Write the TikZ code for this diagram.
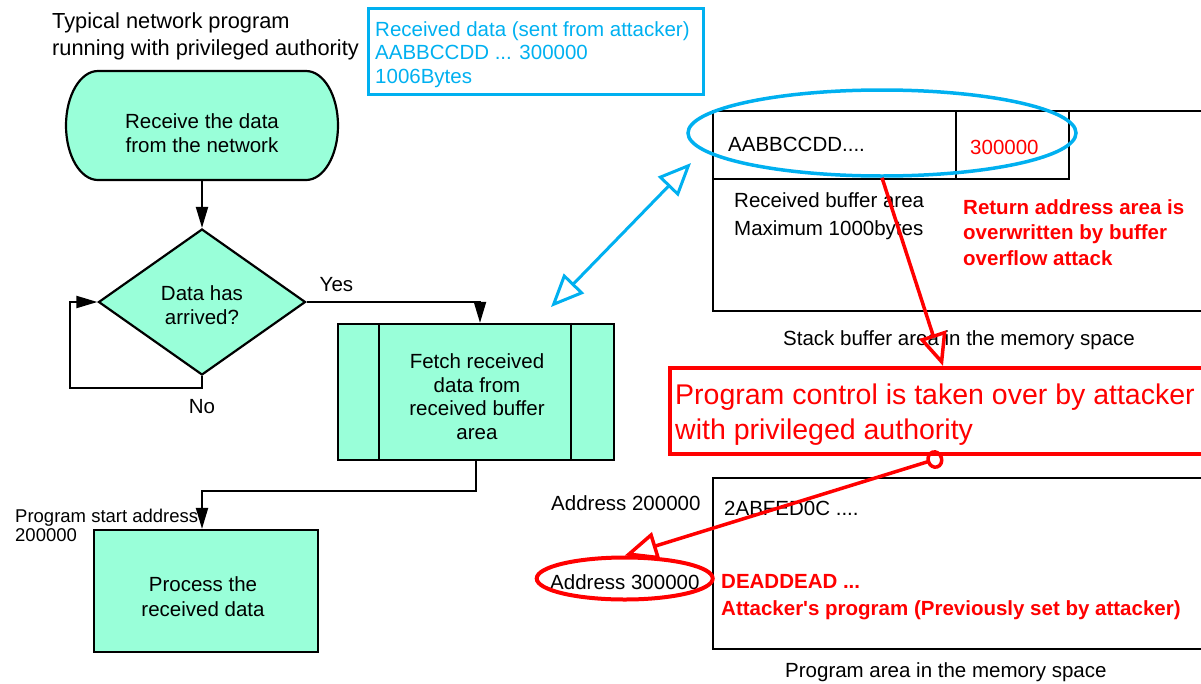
\documentclass[tikz,border=0pt]{standalone}
\usepackage{fontspec}
\setmainfont{Liberation Sans}[Ligatures=TeXOff]
\usetikzlibrary{arrows.meta,shapes.geometric}
\definecolor{mint}{RGB}{153,255,217}
\definecolor{skyline}{RGB}{0,176,240}
\definecolor{alert}{RGB}{255,0,0}
% multi-line text block whose reference point is the first baseline
\newcommand{\txtblk}[2]{\begin{tabular}[t]{@{}#1@{}}#2\end{tabular}}
\newcommand{\fs}[2]{\fontsize{#1}{#2}\selectfont}
\begin{document}
\begin{tikzpicture}[x=1pt,y=-1pt,
  flow/.style={draw=black, line width=2.2pt, fill=mint, inner sep=0pt},
  frame/.style={draw=black, line width=2.2pt, rectangle, inner sep=0pt},
  txt/.style={inner sep=0pt, font=\fs{20.5}{24}},
  link/.style={draw=black, line width=2pt, -{Triangle[length=21pt,width=12pt]}},
  bluelink/.style={draw=skyline, line width=3pt,
    {Triangle[open,length=33pt,width=28pt]}-{Triangle[open,length=33pt,width=28pt]}},
  redlink/.style={draw=alert, line width=3.5pt, -{Triangle[open,length=33pt,width=28pt]}}]
\clip (0,0) rectangle (1201,683);

% ---------- flowchart ----------
\path[flow] (98,71) -- (306,71)
  .. controls (323.7,71) and (338,95.4) .. (338,125.5)
  .. controls (338,155.6) and (323.7,180) .. (306,180) -- (98,180)
  .. controls (80.3,180) and (66,155.6) .. (66,125.5)
  .. controls (66,95.4) and (80.3,71) .. (98,71) -- cycle;
\node[inner sep=0pt, minimum width=272pt, minimum height=109pt] (start) at (202,125.5) {};
\node[flow, diamond, minimum width=207pt, minimum height=146pt] (dec) at (202,302) {};
\node[flow, rectangle, minimum width=276pt, minimum height=136pt] (fetch) at (476,392) {};
\draw[line width=2.2pt] ([xshift=42pt]fetch.north west) -- ([xshift=42pt]fetch.south west);
\draw[line width=2.2pt] ([xshift=-44pt]fetch.north east) -- ([xshift=-44pt]fetch.south east);
\node[flow, rectangle, minimum width=224pt, minimum height=122pt] (proc) at (206,591) {};

\node[txt, anchor=base] (starttxt) at (202,128.3) {\txtblk{c}{Receive the data\\from the network}};
\node[txt, anchor=base] (dectxt) at (202,300) {\txtblk{c}{Data has\\arrived?}};
\node[txt, font=\fs{20.5}{23.7}, anchor=base] (fetchtxt) at (477,368.3)
  {\txtblk{c}{Fetch received\\data from\\received buffer\\area}};
\node[txt, font=\fs{20.5}{24.3}, anchor=base] (proctxt) at (203,591.7) {\txtblk{c}{Process the\\received data}};
\node[txt, anchor=base west] (yes) at (319.5,291.7) {Yes};
\node[txt, anchor=base] (no) at (202,413.3) {No};

\node[txt, font=\fs{21.8}{26.7}, anchor=base west] (title) at (52,28.3)
  {\txtblk{l}{Typical network program\\running with privileged authority}};
\node[txt, font=\fs{18.5}{19.4}, anchor=base west] (startaddr) at (15,522.3)
  {\txtblk{l}{Program start address\\200000}};

% ---------- received data ----------
\node[draw=skyline, line width=2.5pt, anchor=north west, minimum width=335pt,
  minimum height=86pt, inner sep=0pt] (recv) at (367,7) {};
\node[txt, font=\fs{20.5}{23.5}, text=skyline, anchor=base west] (recvtxt) at (375,36)
  {\txtblk{l}{Received data (sent from attacker)\\AABBCCDD ... 300000\\1006Bytes}};

% ---------- stack buffer ----------
\node[frame, anchor=north west, minimum width=510pt, minimum height=200pt] (stack) at (712,110) {};
\node[frame, anchor=north west, minimum width=356pt, minimum height=68pt] (cell) at (712,110) {};
\draw[line width=2.2pt] ([xshift=244pt]cell.north west) -- ([xshift=244pt]cell.south west);
\node[txt, anchor=base west] (aabb) at (728,151.7) {AABBCCDD....};
\node[txt, text=alert, anchor=base west] (ret) at (970,154) {300000};
\node[txt, font=\fs{20.5}{27.7}, anchor=base west] (buftxt) at (734,207.3)
  {\txtblk{l}{Received buffer area\\Maximum 1000bytes}};
\node[txt, font=\fs{20.5}{25.8}\bfseries, text=alert, anchor=base west] (overtxt) at (963,214)
  {\txtblk{l}{Return address area is\\overwritten by buffer\\overflow attack}};
\node[txt, anchor=base west] (stackcap) at (783,345.5) {Stack buffer area in the memory space};
\node[ellipse, draw=skyline, line width=3.5pt, minimum width=388pt, minimum height=86pt,
  inner sep=0pt] (bufell) at (882,133) {};

% ---------- control taken over ----------
\node[draw=alert, line width=4pt, anchor=north west, minimum width=545pt,
  minimum height=86pt, inner sep=0pt] (ctrl) at (668,366) {};
\node[txt, font=\fs{28.5}{35.3}, text=alert, anchor=base west] (ctrltxt) at (675,404)
  {\txtblk{l}{Program control is taken over by attacker\\with privileged authority}};

% ---------- program area ----------
\node[frame, anchor=north west, minimum width=510pt, minimum height=171pt] (prog) at (712,477) {};
\node[txt, anchor=base west] (addr2) at (551,510) {Address 200000};
\node[txt, anchor=base west] (code) at (724,515.7) {2ABFED0C ....};
\node[txt, anchor=base west] (addr3txt) at (550,589.3) {Address 300000};
\node[ellipse, draw=alert, line width=4pt, minimum width=176pt, minimum height=42pt,
  inner sep=0pt] (addr3) at (624.7,578.5) {};
\node[txt, font=\fs{20.5}{27.2}\bfseries, text=alert, anchor=base west] (dead) at (721,588.3)
  {\txtblk{l}{DEADDEAD ...\\Attacker's program (Previously set by attacker)}};
\node[txt, anchor=base west] (progcap) at (785,677) {Program area in the memory space};

% ---------- connectors ----------
\coordinate (loopc) at (70,388);
\draw[link] (start.south) -- (dec.north);
\draw[link] (dec.south) |- (loopc) |- (dec.west);
\draw[link] (dec.east) -| ([xshift=4pt]fetch.north);
\draw[link] (fetch.south) -- ++(0,30) -| ([xshift=-4pt]proc.north);

\coordinate (fetchlink) at (551,307);
\coordinate (buflink) at (691,163);
\draw[bluelink] (fetchlink) -- (buflink);

\coordinate (hit) at ([xshift=275pt]ctrl.north west);
\draw[redlink] (bufell.south) -- (hit);
\draw[redlink, {Circle[open,length=17pt,width=19pt]}-{Triangle[open,length=33pt,width=28pt]}]
  ([xshift=275pt,yshift=-1pt]ctrl.south west) -- (addr3.north);
\end{tikzpicture}
\end{document}
